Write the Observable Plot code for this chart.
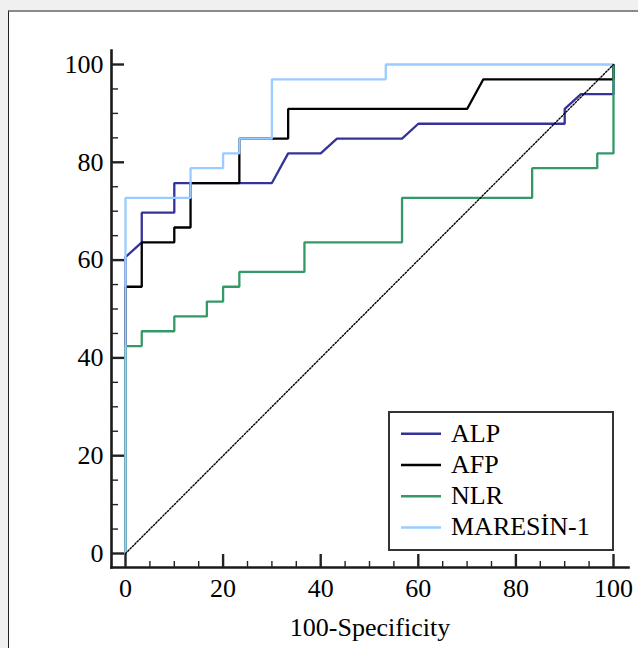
<!DOCTYPE html>
<html>
<head>
<meta charset="utf-8">
<script src="https://cdn.jsdelivr.net/npm/d3@7"></script>
<script src="https://cdn.jsdelivr.net/npm/@observablehq/plot@0.6"></script>
<style>
  html, body { margin: 0; padding: 0; background: #f0f0f0; }
  #wrap { position: relative; width: 638px; height: 648px; overflow: hidden; }
  #panel { position: absolute; left: 8px; top: 10px; width: 700px; height: 700px; background: #fff;
           border-left: 1.5px solid #222; border-top: 2px solid #8a8a8a; box-sizing: border-box; }
  #chart { position: absolute; left: 0; top: 0; }
  #legend { position: absolute; left: 388px; top: 411px; width: 225.5px; height: 140px; box-sizing: border-box;
            border: 2.5px solid #333; background: #fff; }
  #legend svg { position: absolute; left: 0; top: 0; }
</style>
</head>
<body>
<div id="wrap">
  <div id="panel"></div>
  <div id="chart"></div>
  <div id="legend"></div>
</div>
<script>
// ----- data (100-Specificity, Sensitivity) -----
const seriesNames = ["ALP", "AFP", "NLR", "MARESİN-1"];
const seriesColors = ["#333399", "#000000", "#339966", "#99ccff"];

const alpX = [0, 0, 3.33, 3.33, 10, 10, 30, 33.33, 40, 43.33, 56.67, 60, 90, 90, 93.33, 100, 100];
const alpY = [0, 60.61, 63.64, 69.70, 69.70, 75.76, 75.76, 81.82, 81.82, 84.85, 84.85, 87.88, 87.88, 90.91, 93.94, 93.94, 100];

const afpX = [0, 0, 3.33, 3.33, 10, 10, 13.33, 13.33, 23.33, 23.33, 33.33, 33.33, 70, 73.33, 100, 100];
const afpY = [0, 54.55, 54.55, 63.64, 63.64, 66.67, 66.67, 75.76, 75.76, 84.85, 84.85, 90.91, 90.91, 96.97, 96.97, 100];

const nlrX = [0, 0, 3.33, 3.33, 10, 10, 16.67, 16.67, 20, 20, 23.33, 23.33, 36.67, 36.67, 56.67, 56.67, 83.33, 83.33, 96.67, 96.67, 100, 100];
const nlrY = [0, 42.42, 42.42, 45.45, 45.45, 48.48, 48.48, 51.52, 51.52, 54.55, 54.55, 57.58, 57.58, 63.64, 63.64, 72.73, 72.73, 78.79, 78.79, 81.82, 81.82, 100];

const marX = [0, 0, 13.33, 13.33, 20, 20, 23.33, 23.33, 30, 30, 53.33, 53.33, 100];
const marY = [0, 72.73, 72.73, 78.79, 78.79, 81.82, 81.82, 84.85, 84.85, 96.97, 96.97, 100, 100];

const diagX = [0, 100];
const diagY = [0, 100];

const majorTicks = [0, 20, 40, 60, 80, 100];
const minorTicks = [5, 10, 15, 25, 30, 35, 45, 50, 55, 65, 70, 75, 85, 90, 95];
const xLabel = "100-Specificity";

// ----- build -----
const seriesXs = [alpX, afpX, nlrX, marX];
const seriesYs = [alpY, afpY, nlrY, marY];
const toPts = (xs, ys) => xs.map((x, i) => ({x, y: ys[i]}));

const font = "'Liberation Serif', 'Times New Roman', serif";
const fs = 26;
const axisColor = "#1a1a1a";
const noText = () => "";

const lineMarks = seriesNames.map((name, i) =>
  Plot.line(toPts(seriesXs[i], seriesYs[i]), {
    x: "x", y: "y", stroke: seriesColors[i], strokeWidth: 2.3,
    strokeLinejoin: "miter", strokeLinecap: "butt"
  })
);

const chart = Plot.plot({
  width: 638,
  height: 648,
  marginLeft: 111,
  marginRight: 10,
  marginTop: 50,
  marginBottom: 81,
  x: {domain: [0, 100], range: [125, 613]},
  y: {domain: [0, 100], range: [553, 64]},
  style: {background: "transparent", fontFamily: font, fontSize: fs + "px", color: "#000", overflow: "visible"},
  marks: [
    // axis lines
    Plot.frame({anchor: "left", stroke: axisColor, strokeWidth: 2.6}),
    Plot.frame({anchor: "bottom", stroke: axisColor, strokeWidth: 2.6}),
    // y ticks
    Plot.axisY(majorTicks, {anchor: "left", tickSize: -13, tickFormat: noText, stroke: "#222", strokeWidth: 2.4, label: null}),
    Plot.axisY(minorTicks, {anchor: "left", tickSize: -7, tickFormat: noText, stroke: "#222", strokeWidth: 1.4, label: null}),
    Plot.axisY(majorTicks, {anchor: "left", tickSize: 0, tickPadding: 8, fontSize: fs, fill: "#000", label: null}),
    // x ticks
    Plot.axisX(majorTicks, {anchor: "bottom", tickSize: -13, tickFormat: noText, stroke: "#222", strokeWidth: 2.4, label: null}),
    Plot.axisX(minorTicks, {anchor: "bottom", tickSize: -6, tickFormat: noText, stroke: "#222", strokeWidth: 1.4, label: null}),
    Plot.axisX(majorTicks, {anchor: "bottom", tickSize: 0, tickPadding: 11, fontSize: fs, fill: "#000", label: null}),
    Plot.text([xLabel], {frameAnchor: "bottom", lineAnchor: "middle", dy: 60, fontSize: fs, fill: "#000"}),
    // curves
    ...lineMarks,
    // reference diagonal
    Plot.line(toPts(diagX, diagY), {x: "x", y: "y", stroke: "#000", strokeWidth: 1.4, strokeDasharray: "1.5,1.8"})
  ]
});
document.getElementById("chart").appendChild(chart);

// ----- legend -----
const lg = d3.select("#legend").append("svg").attr("width", 221).attr("height", 135)
  .style("font-family", font).style("font-size", fs + "px");
const rowH = 31.2;
seriesNames.forEach((name, i) => {
  const g = lg.append("g").attr("transform", `translate(0,${i * rowH})`);
  g.append("line").attr("x1", 11).attr("x2", 51).attr("y1", 20.8).attr("y2", 20.8)
    .attr("stroke", seriesColors[i]).attr("stroke-width", 2.5);
  g.append("text").attr("x", 61).attr("y", 28.6).attr("fill", "#000").text(name);
});
</script>
</body>
</html>
